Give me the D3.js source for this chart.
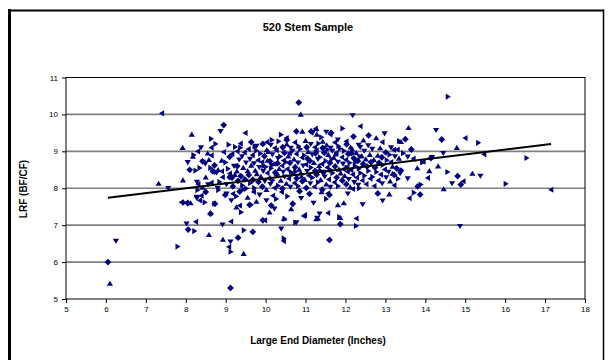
<!DOCTYPE html>
<html><head><meta charset="utf-8">
<script src="https://cdn.jsdelivr.net/npm/d3@7"></script>
<style>body{margin:0;background:#fff}svg{display:block}text{font-family:"Liberation Sans",Arial,sans-serif}</style>
</head><body><svg id="c" width="608" height="360"></svg>
<script>
const xTicks = [5,6,7,8,9,10,11,12,13,14,15,16,17,18];
const yTicks = [5,6,7,8,9,10,11];
const trendX = [6.05, 17.15];
const trendY = [7.74, 9.2];
const chartTitle = "520 Stem Sample";
const xTitle = "Large End Diameter (Inches)";
const yTitle = "LRF (BF/CF)";

const outliers = [[6.05,6.0],[6.1,5.42],[6.25,6.57],[7.4,10.03],[7.8,6.42],[9.12,5.3],[7.32,8.13],[7.56,8.0]];
const lowGroup = [[7.89,7.62],[7.97,7.61],[8.05,7.6],[8.12,7.6],[8.27,7.76],[8.35,7.67],[8.48,7.62],[8.73,7.58],[8.62,7.33],[9.02,7.85],[9.18,7.85],[9.27,7.78],[9.35,7.91],[9.43,7.98],[9.14,7.67],[9.35,7.53],[9.39,7.35],[9.6,7.55],[9.77,7.64],[10.02,7.67],[10.18,7.8],[10.27,7.71],[10.14,7.53],[10.1,7.35],[10.22,7.44],[9.98,7.13],[10.48,7.17],[10.68,7.58],[10.64,7.44],[10.89,7.73],[10.95,7.25],[10.75,7.07],[11.1,7.85],[11.27,7.17],
[8.02,7.04],[8.25,7.09],[8.22,6.84],[8.06,6.88],[8.58,6.74],[8.92,7.01],[9.13,7.1],[9.46,6.86],[9.68,6.82],[8.93,6.61],[9.12,6.55],[9.08,6.41],[9.13,6.28],[9.31,6.66],[9.45,6.23],[10.39,6.9],[10.45,6.57],[10.46,6.64],[8.62,7.31],[9.27,7.49],[8.28,7.73],[8.39,7.8],[8.72,7.58],[8.99,7.82],[11.31,7.18],[11.35,7.31],[11.56,7.33],[11.85,7.22],[11.6,6.6],[11.96,7.6],[12.06,7.85],[12.27,7.18],[12.27,6.98],[11.87,7.03],[11.87,7.2],[11.29,7.19],[11.56,7.86],[11.52,7.71],[11.6,7.82],[11.81,7.55],[12.43,7.56],[12.18,7.98],[12.35,8.0],[12.81,7.86],[13.1,7.84],[12.93,7.66],[13.6,7.73],[13.72,7.88],[13.87,7.83],[14.46,7.98],[14.87,6.97],[17.15,7.96],[9.64,7.55],[9.93,7.13],[10.46,7.18],[10.77,7.07],[10.98,7.27],[8.3,7.95],[8.5,7.9],[9.55,7.75],[9.85,7.82],[10.4,7.9],[10.55,7.78],[10.85,7.92],[11.4,7.9],[11.2,7.6],[9.7,7.9],[8.82,7.95]];
const upperGroup = [[10.83,10.32],[10.88,10.0],[12.18,9.97],[12.37,9.68],[14.57,10.48],[8.95,9.71],[8.15,9.46],[8.87,9.54],[9.49,9.5],[8.64,9.34],[10.77,9.54],[10.92,9.54],[11.18,9.5],[11.25,9.61],[10.39,9.45],[11.14,9.54],[11.28,9.46],[11.52,9.52],[11.62,9.46],[11.93,9.62],[12.58,9.43],[12.77,9.36],[12.98,9.48],[12.92,9.25],[13.35,9.28],[13.5,9.33],[13.58,9.64],[14.27,9.57],[15.0,9.36],[15.33,9.23],[14.41,9.32],[14.79,9.1],[13.14,9.1],[10.03,9.25],[10.16,9.31],[10.53,9.31],[11.43,9.27],[11.81,9.31],[12.02,9.27],[9.08,9.18],[9.64,9.25],[7.92,9.1],[8.38,9.1],[8.64,9.1],[9.37,9.1],[11.64,9.5],[11.27,9.61],[9.77,9.14],[10.52,9.36],[11.4,9.38],[12.2,9.4],[12.45,9.3]];
const rightGroup = [[13.56,8.85],[13.7,8.8],[13.93,8.7],[14.14,8.82],[14.32,8.6],[13.56,8.26],[14.06,8.28],[14.56,8.44],[14.81,8.33],[15.18,8.4],[15.38,8.33],[13.22,8.08],[13.89,8.1],[14.89,8.1],[13.18,8.4],[13.37,8.4],[15.47,8.92],[16.54,8.82],[13.39,8.48],[14.1,8.47],[14.67,8.13],[14.95,8.19],[16.02,8.12],[13.81,8.05],[13.39,9.26],[14.17,8.84],[13.95,8.72],[13.45,8.95],[13.65,9.05],[13.8,8.55],[14.45,8.95],[13.3,9.05]];
const leftGroup = [[8.2,8.9],[8.42,8.73],[8.58,8.77],[8.49,8.66],[8.64,8.89],[8.25,8.48],[8.68,8.46],[8.81,8.5],[8.77,8.42],[8.9,8.46],[9.06,8.53],[9.29,8.6],[7.93,8.22],[8.28,8.17],[8.64,8.15],[8.85,8.17],[9.16,8.29],[8.42,8.02],[8.56,8.1],[8.95,8.98],[8.62,8.55],[8.72,8.62],[8.5,8.3],[8.8,8.0],[8.92,8.3],[9.0,8.7],[9.1,8.85],[8.9,8.75],[9.02,8.1],[9.1,8.4],[8.35,8.55],[8.1,8.5],[8.18,8.86],[8.43,8.71],[8.31,8.11],[8.77,8.44],[9.1,8.3],[8.55,8.95],[8.05,8.7],[8.3,9.0],[8.75,9.2]];
const coreGroup = [[9.18,8.05],[9.23,8.37],[9.21,8.6],[9.16,8.93],[9.24,9.12],[9.31,8.2],[9.28,8.46],[9.34,8.77],[9.29,9.0],[9.42,8.08],[9.38,8.33],[9.44,8.56],[9.41,8.86],[9.37,9.21],[9.52,7.99],[9.48,8.24],[9.55,8.47],[9.51,8.69],[9.47,8.97],[9.62,8.14],[9.58,8.36],[9.64,8.62],[9.61,8.79],[9.57,9.06],[9.72,8.01],[9.68,8.23],[9.74,8.48],[9.71,8.67],[9.67,8.9],[9.73,9.13],[9.82,8.17],[9.78,8.39],[9.84,8.57],[9.81,8.76],[9.77,9.02],[9.92,8.04],[9.88,8.32],[9.94,8.46],[9.91,8.71],[9.87,8.94],[9.93,9.2],
[10.02,7.96],[9.98,8.19],[10.04,8.41],[10.01,8.58],[9.97,8.87],[10.03,9.04],[10.12,8.11],[10.08,8.27],[10.14,8.54],[10.11,8.73],[10.07,8.99],[10.13,9.17],[10.22,8.01],[10.18,8.22],[10.24,8.43],[10.21,8.66],[10.17,8.91],[10.23,9.09],[10.32,8.07],[10.28,8.36],[10.34,8.53],[10.31,8.81],[10.27,9.03],[10.33,9.27],[10.42,7.99],[10.38,8.21],[10.44,8.44],[10.41,8.61],[10.37,8.86],[10.43,9.11],[10.52,8.13],[10.48,8.31],[10.54,8.52],[10.51,8.71],[10.47,8.96],[10.53,9.19],[10.62,8.03],[10.58,8.26],[10.64,8.44],[10.61,8.69],[10.57,8.87],[10.63,9.09],[10.72,8.14],[10.68,8.39],[10.74,8.57],[10.71,8.79],[10.67,9.01],[10.73,9.24],[10.82,8.06],[10.78,8.27],[10.84,8.51],[10.81,8.69],[10.77,8.93],[10.83,9.14],[10.92,8.19],[10.88,8.41],[10.94,8.61],[10.91,8.83],[10.87,9.06],
[11.02,8.01],[10.98,8.24],[11.04,8.46],[11.01,8.64],[10.97,8.89],[11.03,9.11],[11.0,9.29],[11.12,8.13],[11.08,8.34],[11.14,8.56],[11.11,8.74],[11.07,8.99],[11.13,9.19],[11.22,8.04],[11.18,8.29],[11.24,8.47],[11.21,8.69],[11.17,8.91],[11.23,9.11],[11.32,8.16],[11.28,8.37],[11.34,8.61],[11.31,8.79],[11.27,9.03],[11.33,9.21],[11.42,7.96],[11.38,8.23],[11.44,8.44],[11.41,8.66],[11.37,8.84],[11.43,9.09],[11.52,8.11],[11.48,8.31],[11.54,8.56],[11.51,8.74],[11.47,8.96],[11.53,9.17],[11.62,8.03],[11.58,8.24],[11.64,8.49],[11.61,8.69],[11.57,8.91],[11.63,9.09],[11.72,8.16],[11.68,8.41],[11.74,8.59],[11.71,8.83],[11.67,9.01],[11.73,9.24],[11.82,8.06],[11.78,8.29],[11.84,8.51],[11.81,8.71],[11.77,8.96],[11.83,9.14],[11.92,8.21],[11.88,8.41],[11.94,8.66],[11.91,8.84],[11.87,9.07],
[12.02,8.11],[11.98,8.34],[12.04,8.56],[12.01,8.77],[11.97,9.01],[12.03,9.19],[12.12,8.03],[12.08,8.24],[12.14,8.49],[12.11,8.69],[12.07,8.93],[12.13,9.11],[12.22,8.16],[12.18,8.37],[12.24,8.61],[12.21,8.81],[12.17,9.06],[12.32,8.09],[12.28,8.29],[12.34,8.53],[12.31,8.74],[12.27,8.96],[12.33,9.17],[12.42,8.21],[12.38,8.41],[12.44,8.66],[12.41,8.87],[12.37,9.11],[12.52,8.11],[12.48,8.34],[12.54,8.59],[12.51,8.79],[12.47,9.01],[12.62,8.26],[12.58,8.47],[12.64,8.71],[12.61,8.91],[12.57,9.16],[12.72,8.06],[12.68,8.31],[12.74,8.56],[12.71,8.77],[12.67,9.06],[12.82,8.21],[12.78,8.44],[12.84,8.69],[12.81,8.89],[12.92,8.13],[12.88,8.37],[12.94,8.63],[12.91,8.84],[12.87,9.09],
[13.02,8.29],[12.98,8.51],[13.04,8.76],[13.01,8.97],[13.12,8.19],[13.08,8.44],[13.14,8.71],[13.11,8.91],[13.22,8.36],[13.18,8.59],[13.24,8.86],[13.21,9.04],[13.32,8.26],[13.28,8.54],[13.34,8.81],
[10.15,8.62],[10.45,8.75],[10.75,8.45],[11.05,8.8],[11.35,8.5],[11.65,8.78],[11.95,8.52],[12.25,8.7],[10.3,8.68],[10.9,8.32],[11.45,8.38],[12.05,8.45],[9.95,8.6],[11.25,8.95],[11.75,8.92],[12.35,8.85],[10.6,8.95],[11.55,9.05],[12.15,8.95],[10.05,8.75]];

const samples = [].concat(outliers, lowGroup, upperGroup, rightGroup, leftGroup, coreGroup);

const svg = d3.select('#c');
const x = d3.scaleLinear().domain([5,18]).range([66,585]);
const y = d3.scaleLinear().domain([5,11]).range([299,77.5]);

// outer chart border
svg.append('line').attr('x1',9.5).attr('x2',9.5).attr('y1',9).attr('y2',360).attr('stroke','#000').attr('stroke-width',3);
svg.append('line').attr('x1',8).attr('x2',604).attr('y1',10.5).attr('y2',10.5).attr('stroke','#000').attr('stroke-width',2);
svg.append('line').attr('x1',603.5).attr('x2',603.5).attr('y1',9.5).attr('y2',360).attr('stroke','#000').attr('stroke-width',1.5);

// gridlines
svg.append('g').selectAll('line').data(yTicks.filter(v=>v>5 && v<11)).join('line')
  .attr('x1',x(5)).attr('x2',x(18)).attr('y1',d=>y(d)).attr('y2',d=>y(d))
  .attr('stroke','#808080').attr('stroke-width',1.6);

// axes
const xa = svg.append('g').attr('transform',`translate(0,${y(5)})`)
  .call(d3.axisBottom(x).tickValues(xTicks).tickSize(4).tickPadding(3).tickFormat(d3.format('d')));
const ya = svg.append('g').attr('transform',`translate(${x(5)},0)`)
  .call(d3.axisLeft(y).tickValues(yTicks).tickSize(4).tickPadding(4).tickFormat(d3.format('d')));
[xa,ya].forEach(g=>{
  g.select('.domain').remove();
  g.selectAll('line').attr('stroke','#000');
  g.selectAll('text').attr('font-size',8).attr('fill','#000').style('font-family','"Liberation Sans",Arial,sans-serif');
});

// plot area frame
svg.append('rect').attr('x',x(5)).attr('y',y(11)).attr('width',x(18)-x(5)).attr('height',y(5)-y(11))
  .attr('fill','none').attr('stroke','#000').attr('stroke-width',1);

// markers
const shapes = [
  'M0,-3.4L3.4,0L0,3.4L-3.4,0Z',
  'M0,-2.8L3.1,2.3L-3.1,2.3Z',
  'M0,2.8L3.1,-2.3L-3.1,-2.3Z',
  'M-2.8,0L2.3,-3.1L2.3,3.1Z',
  'M2.8,0L-2.3,-3.1L-2.3,3.1Z'
];
svg.append('g').selectAll('path').data(samples).join('path')
  .attr('transform',d=>`translate(${x(d[0])},${y(d[1])})`)
  .attr('d',(d,i)=>shapes[i%shapes.length])
  .attr('fill','#000080');

// trendline
svg.append('line').attr('x1',x(trendX[0])).attr('y1',y(trendY[0])).attr('x2',x(trendX[1])).attr('y2',y(trendY[1]))
  .attr('stroke','#000').attr('stroke-width',2);

// titles
svg.append('text').attr('x',308).attr('y',31).attr('text-anchor','middle').attr('font-size',11).attr('font-weight','bold').text(chartTitle);
svg.append('text').attr('x',318).attr('y',344).attr('text-anchor','middle').attr('font-size',10).attr('font-weight','bold').text(xTitle);
svg.append('text').attr('transform','translate(27,189) rotate(-90)').attr('text-anchor','middle').attr('font-size',10).attr('font-weight','bold').text(yTitle);
</script></body></html>
